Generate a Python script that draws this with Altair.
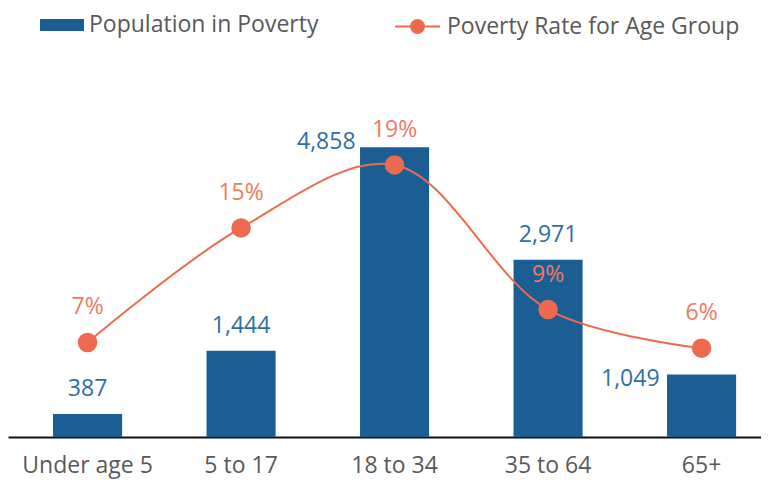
import altair as alt
import pandas as pd

categories = ["Under age 5", "5 to 17", "18 to 34", "35 to 64", "65+"]
population = [387, 1444, 4858, 2971, 1049]
poverty_rate = [0.066, 0.146, 0.190, 0.089, 0.062]

df = pd.DataFrame({"age": categories, "population": population, "rate": poverty_rate})

BLUE = "#1b5e94"
ORANGE = "#ee6a4f"
BLUE_TEXT = "#2f6ea4"
ORANGE_TEXT = "#f07a5f"
GRAY = "#595959"
FONT = "Open Sans"
FS = 23
left_labelled_top = ["18 to 34"]
left_labelled_low = ["65+"]

base = alt.Chart(df).transform_calculate(
    s_bar="'Population in Poverty'", s_line="'Poverty Rate for Age Group'"
)

x = alt.X(
    "age:N", sort=categories, title=None,
    scale=alt.Scale(paddingInner=0.55, paddingOuter=0.2277, align=0.644),
    axis=alt.Axis(labelAngle=0, labelFont=FONT, labelFontSize=FS, labelColor=GRAY,
                  labelPadding=17, ticks=False, domainColor="#111111", domainWidth=2,
                  grid=False),
)
y_bar = alt.Y("population:Q", scale=alt.Scale(domain=[0, 6000]), axis=None)
y_rate = alt.Y("rate:Q", scale=alt.Scale(domain=[0, 0.25]), axis=None)

bars = base.mark_bar(opacity=1).encode(
    x=x, y=y_bar,
    fill=alt.Fill("s_bar:N", scale=alt.Scale(range=[BLUE]),
                  legend=alt.Legend(title=None, orient="none", legendX=32, legendY=-76,
                                    symbolType="M-1,-0.27H1V0.27H-1Z", symbolSize=1936,
                                    symbolStrokeWidth=0, labelFont=FONT, labelFontSize=FS,
                                    labelColor=GRAY, labelOffset=5, labelLimit=600)),
)
txt = dict(font=FONT, fontSize=FS, color=BLUE_TEXT, baseline="middle")
bar_lbl = base.mark_text(dy=-25, **txt).encode(
    x=x, y=y_bar, text=alt.Text("population:Q", format=",")
).transform_filter(
    ~alt.FieldOneOfPredicate(field="age", oneOf=left_labelled_top + left_labelled_low)
)
bar_lbl_l1 = base.mark_text(dy=-5, dx=-39, align="right", **txt).encode(
    x=x, y=y_bar, text=alt.Text("population:Q", format=",")
).transform_filter(alt.FieldOneOfPredicate(field="age", oneOf=left_labelled_top))
bar_lbl_l2 = base.mark_text(dy=5, dx=-42, align="right", **txt).encode(
    x=x, y=y_bar, text=alt.Text("population:Q", format=",")
).transform_filter(alt.FieldOneOfPredicate(field="age", oneOf=left_labelled_low))

line = base.mark_line(interpolate="catmull-rom", strokeWidth=2).encode(
    x=x, y=y_rate,
    stroke=alt.Stroke("s_line:N", scale=alt.Scale(range=[ORANGE]),
                      legend=alt.Legend(title=None, orient="none", legendX=386, legendY=-76,
                                        symbolType="M-1,0H1M-0.29,0A0.29,0.29,0,1,0,0.29,0A0.29,0.29,0,1,0,-0.29,0Z",
                                        symbolSize=2025, symbolStrokeWidth=2,
                                        symbolFillColor=ORANGE, labelFont=FONT,
                                        labelFontSize=FS, labelColor=GRAY, labelOffset=6,
                                        labelLimit=600)),
)
points = base.mark_circle(size=380, color=ORANGE, opacity=1).encode(x=x, y=y_rate)
rate_lbl = base.mark_text(dy=-35, font=FONT, fontSize=FS, color=ORANGE_TEXT,
                          baseline="middle").encode(
    x=x, y=y_rate, text=alt.Text("rate:Q", format=".0%")
)

chart = alt.layer(
    alt.layer(bars, bar_lbl, bar_lbl_l1, bar_lbl_l2),
    alt.layer(line, points, rate_lbl),
).resolve_scale(y="independent").properties(
    width=753, height=358,
    autosize=alt.AutoSizeParams(type="none"),
    padding={"left": 0, "right": 0, "top": 71, "bottom": 45},
).configure_view(stroke=None)

chart.save("out.html", embed_options={"renderer": "svg", "actions": False})
